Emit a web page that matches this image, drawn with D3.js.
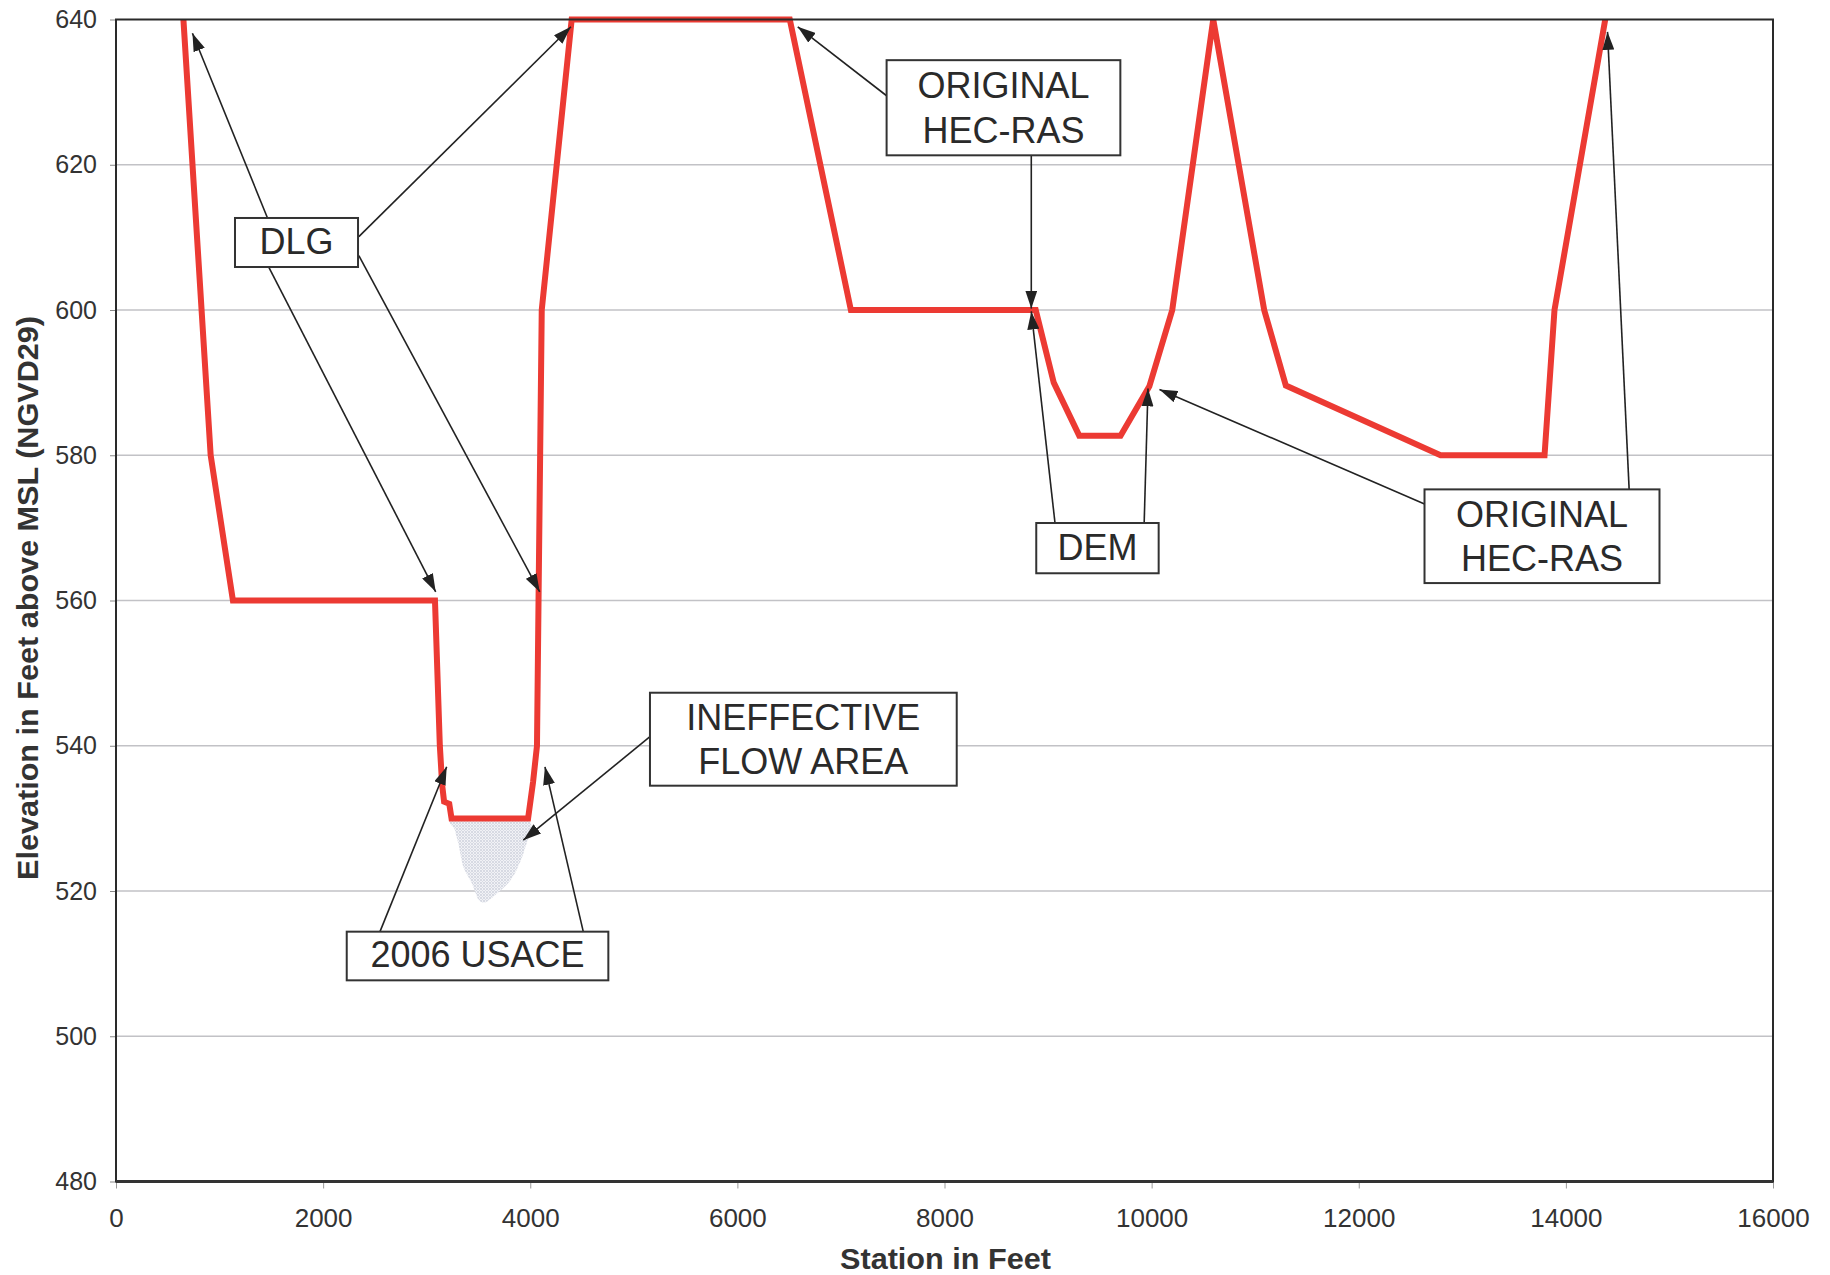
<!DOCTYPE html>
<html>
<head>
<meta charset="utf-8">
<script src="https://cdn.jsdelivr.net/npm/d3@7"></script>
<style>
  html, body { margin: 0; padding: 0; background: #fff; }
  svg { display: block; }
  text { font-family: "Liberation Sans", Arial, sans-serif; }
</style>
</head>
<body>
<script>
// ---------------- DATA ----------------
// Ground profile (station in feet, elevation in feet NGVD29)
const stations   = [651, 914, 1129, 3080, 3127, 3150, 3168, 3218, 3240, 3979, 4027, 4065, 4080, 4111, 4400, 6506, 7096, 8881, 9055, 9301, 9700, 9978, 10199, 10595, 11087, 11296, 12790, 13794, 13890, 14380];
const elevations = [640, 580, 560, 560, 540, 534.5, 532.3, 532, 530, 530, 535, 540, 560, 600, 640, 640, 600, 600, 590, 582.7, 582.7, 589.5, 600, 640, 600, 589.6, 580, 580, 600, 640];

// Ineffective flow area outline (station, elevation)
const ineffStations   = [3255, 3979, 3945, 3869, 3788, 3643, 3563, 3500, 3435, 3354, 3305, 3270];
const ineffElevations = [529.8, 529.8, 525.7, 522.9, 521.1, 519.2, 518.4, 518.8, 521.1, 523.3, 526.6, 528.5];

// Axis ticks
const xTicks = [0, 2000, 4000, 6000, 8000, 10000, 12000, 14000, 16000];
const yTicks = [480, 500, 520, 540, 560, 580, 600, 620, 640];
const xTitle = "Station in Feet";
const yTitle = "Elevation in Feet above MSL (NGVD29)";

// Annotation labels (box corners in data units: station / elevation)
const annoLines  = [["DLG"], ["ORIGINAL", "HEC-RAS"], ["DEM"], ["ORIGINAL", "HEC-RAS"], ["INEFFECTIVE", "FLOW AREA"], ["2006 USACE"]];
const annoX0     = [1149, 7441, 8886, 12635, 5156, 2228];
const annoX1     = [2337, 9698, 10068, 14904, 8118, 4754];
const annoTop    = [612.67, 634.4, 570.67, 575.3, 547.3, 514.4];
const annoBottom = [605.92, 621.3, 563.75, 562.4, 534.5, 507.7];

// Leader arrows (from label box to the profile), data units
const arrowFromX = [1462, 2345, 1475, 2345, 7441, 8838, 9067, 9928, 12635, 14611, 5156, 2549, 4512];
const arrowFromY = [612.7, 610.1, 605.9, 607.5, 629.5, 621.3, 570.67, 570.67, 573.3, 575.3, 541.25, 514.4, 514.4];
const arrowToX   = [738, 4393, 3087, 4091, 6583, 8838, 8838, 9965, 10076, 14402, 3933, 3193, 4142];
const arrowToY   = [638.1, 639.0, 561.2, 561.2, 639.0, 600.2, 599.8, 589.2, 589.05, 638.3, 527.0, 537.1, 537.1];

// ---------------- LAYOUT ----------------
const W = 1830, H = 1275;
const L = 116, R = 1773, T = 19.5, B = 1181.5;

const svg = d3.select("body").append("svg").attr("width", W).attr("height", H);

const x = d3.scaleLinear().domain([0, 16000]).range([L, R]);
const y = d3.scaleLinear().domain([480, 640]).range([B, T]);

// defs: stipple pattern + arrow marker
const defs = svg.append("defs");
const pat = defs.append("pattern").attr("id", "stipple")
  .attr("patternUnits", "userSpaceOnUse").attr("width", 3).attr("height", 3);
pat.append("rect").attr("width", 3).attr("height", 3).attr("fill", "#f1f2f6");
pat.append("circle").attr("cx", 1).attr("cy", 1).attr("r", 0.8).attr("fill", "#b7bccb");
pat.append("circle").attr("cx", 2.5).attr("cy", 2.5).attr("r", 0.5).attr("fill", "#cfd3dd");

defs.append("marker").attr("id", "arrow")
  .attr("viewBox", "0 0 18 12").attr("refX", 18).attr("refY", 6)
  .attr("markerWidth", 18).attr("markerHeight", 12)
  .attr("markerUnits", "userSpaceOnUse").attr("orient", "auto")
  .append("path").attr("d", "M0,0 L18,6 L0,12 Z").attr("fill", "#222");

// gridlines
svg.append("g").selectAll("line").data(yTicks.filter(d => d > 480 && d < 640)).join("line")
  .attr("x1", L).attr("x2", R)
  .attr("y1", d => y(d)).attr("y2", d => y(d))
  .attr("stroke", "#c2c2c6").attr("stroke-width", 1.3);

// axes
const gy = svg.append("g").attr("transform", `translate(${L},0)`)
  .call(d3.axisLeft(y).tickValues(yTicks).tickSize(6).tickPadding(13).tickFormat(d3.format("d")));
gy.select(".domain").remove();
gy.selectAll(".tick line").attr("stroke", "#888");
gy.selectAll(".tick text").attr("font-size", 25).attr("fill", "#333")
  .attr("font-family", "'Liberation Sans', Arial, sans-serif");

const gx = svg.append("g").attr("transform", `translate(0,${B})`)
  .call(d3.axisBottom(x).tickValues(xTicks).tickSize(7).tickFormat(d3.format("d")));
gx.select(".domain").remove();
gx.selectAll(".tick line").attr("stroke", "#999");
gx.selectAll(".tick text").attr("font-size", 26).attr("fill", "#333")
  .attr("font-family", "'Liberation Sans', Arial, sans-serif")
  .attr("y", 45.5).attr("dy", 0);

// axis titles
svg.append("text").attr("x", (L + R) / 2 + 1).attr("y", 1269)
  .attr("text-anchor", "middle").attr("font-size", 29).attr("font-weight", "bold")
  .attr("fill", "#333").attr("textLength", 211).attr("lengthAdjust", "spacingAndGlyphs")
  .text(xTitle);
svg.append("text").attr("transform", "translate(37.5,598) rotate(-90)")
  .attr("text-anchor", "middle").attr("font-size", 29).attr("font-weight", "bold")
  .attr("fill", "#333").attr("textLength", 564).attr("lengthAdjust", "spacingAndGlyphs")
  .text(yTitle);

// ineffective flow area
const area = d3.line().x(d => x(d[0])).y(d => y(d[1])).curve(d3.curveCardinalClosed.tension(0.3));
svg.append("path")
  .datum(ineffStations.map((s, i) => [s, ineffElevations[i]]))
  .attr("d", area).attr("fill", "url(#stipple)");

// profile line
const line = d3.line().x(d => x(d[0])).y(d => y(d[1]));
svg.append("path")
  .datum(stations.map((s, i) => [s, elevations[i]]))
  .attr("d", line).attr("fill", "none")
  .attr("stroke", "#ec3a33").attr("stroke-width", 6)
  .attr("stroke-linejoin", "miter").attr("stroke-miterlimit", 3);

// arrows
svg.append("g").selectAll("line").data(arrowFromX.map((d, i) => i)).join("line")
  .attr("x1", i => x(arrowFromX[i])).attr("y1", i => y(arrowFromY[i]))
  .attr("x2", i => x(arrowToX[i])).attr("y2", i => y(arrowToY[i]))
  .attr("stroke", "#222").attr("stroke-width", 1.6)
  .attr("marker-end", "url(#arrow)");

// label boxes
const boxes = svg.append("g").selectAll("g").data(annoLines.map((d, i) => i)).join("g");
boxes.append("rect")
  .attr("x", i => x(annoX0[i])).attr("y", i => y(annoTop[i]))
  .attr("width", i => x(annoX1[i]) - x(annoX0[i]))
  .attr("height", i => y(annoBottom[i]) - y(annoTop[i]))
  .attr("fill", "#fff").attr("stroke", "#333").attr("stroke-width", 2);
boxes.each(function(i) {
  const g = d3.select(this);
  const lines = annoLines[i];
  const cx = (x(annoX0[i]) + x(annoX1[i])) / 2;
  const cy = (y(annoTop[i]) + y(annoBottom[i])) / 2;
  const fs = 36, cap = fs * 0.716;
  const gap = lines.length > 1 ? 44.5 : 0;
  const blockH = cap + gap * (lines.length - 1);
  lines.forEach((t, k) => {
    g.append("text").attr("x", cx).attr("y", cy - blockH / 2 + cap + k * gap - (lines.length === 1 ? 1.5 : 0))
      .attr("text-anchor", "middle").attr("font-size", fs).attr("fill", "#2a2a2a").text(t);
  });
});

// plot frame
svg.append("rect").attr("x", L).attr("y", T).attr("width", R - L).attr("height", B - T)
  .attr("fill", "none").attr("stroke", "#2a2a2a").attr("stroke-width", 2);
svg.append("line").attr("x1", L).attr("x2", R).attr("y1", B).attr("y2", B)
  .attr("stroke", "#333").attr("stroke-width", 3);
</script>
</body>
</html>
